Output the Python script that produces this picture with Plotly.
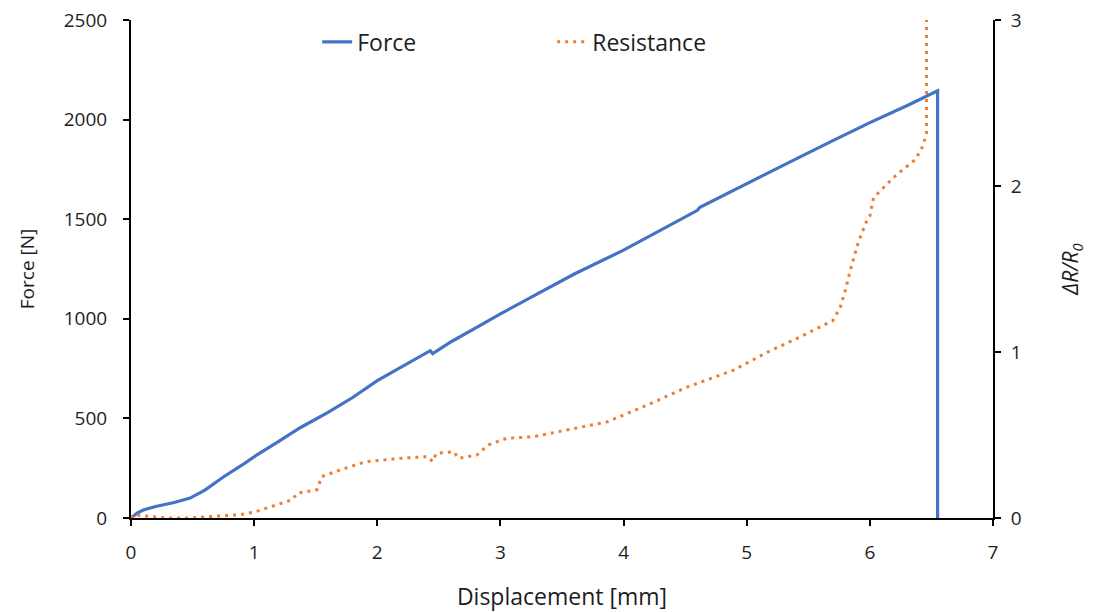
import plotly.graph_objects as go

# Force vs displacement
force_x = [0.0, 0.05, 0.1, 0.2, 0.35, 0.48, 0.6, 0.75, 0.9, 1.02, 1.2, 1.37, 1.6, 1.8, 2.0, 2.2, 2.43, 2.45, 2.6, 2.8, 3.0, 3.3, 3.6, 4.0, 4.3, 4.6, 4.62, 5.0, 5.43, 5.7, 6.0, 6.3, 6.55, 6.55]
force_y = [0, 25, 40, 58, 78, 100, 140, 206, 265, 316, 385, 452, 530, 605, 690, 760, 840, 825, 885, 955, 1025, 1125, 1225, 1345, 1445, 1545, 1560, 1680, 1812, 1895, 1985, 2070, 2145, 0]

# Resistance (ΔR/R0) vs displacement
res_x = [0.0, 0.02, 0.14, 0.29, 0.46, 0.67, 0.88, 1.0, 1.15, 1.31, 1.35, 1.51, 1.55, 1.70, 1.91, 2.19, 2.41, 2.45, 2.48, 2.62, 2.66, 2.81, 2.90, 3.05, 3.27, 3.54, 3.87, 4.19, 4.52, 4.89, 5.17, 5.43, 5.70, 5.76, 5.80, 5.84, 5.91, 5.98, 6.0, 6.03, 6.11, 6.19, 6.27, 6.37, 6.43, 6.46, 6.46, 6.46]
res_y = [0.0, 0.02, 0.01, 0.0, 0.0, 0.01, 0.02, 0.035, 0.07, 0.11, 0.15, 0.17, 0.25, 0.29, 0.34, 0.36, 0.37, 0.34, 0.39, 0.40, 0.36, 0.38, 0.44, 0.48, 0.49, 0.53, 0.58, 0.68, 0.79, 0.89, 1.0, 1.09, 1.19, 1.27, 1.37, 1.49, 1.67, 1.80, 1.82, 1.93, 1.99, 2.05, 2.10, 2.16, 2.24, 2.32, 2.54, 3.2]

x_ticks = [0, 1, 2, 3, 4, 5, 6, 7]
force_ticks = [0, 500, 1000, 1500, 2000, 2500]
res_ticks = [0, 1, 2, 3]

FONT = "Open Sans"
TXT = "#1e1e1e"
fig = go.Figure()
fig.add_trace(go.Scatter(x=force_x, y=force_y, mode="lines", name="Force",
                         line=dict(color="#4472C4", width=3.2)))
fig.add_trace(go.Scatter(x=res_x, y=res_y, mode="lines", name="Resistance", yaxis="y2",
                         line=dict(color="#ED7D31", width=3, dash="3px,5px")))

axis_common = dict(showgrid=False, zeroline=False, showline=True, linecolor="black", linewidth=2,
                   ticks="outside", ticklen=6, tickwidth=2, tickcolor="black", automargin=False,
                   ticklabeloverflow="allow",
                   tickfont=dict(family=FONT, size=19, color=TXT))

fig.update_layout(
    width=1088, height=604,
    margin=dict(l=123, r=103, t=12, b=94),
    plot_bgcolor="white", paper_bgcolor="white",
    font=dict(family=FONT, size=19, color=TXT),
    xaxis=dict(range=[0, 7], tickvals=x_ticks, ticklabelstandoff=10,
               title=dict(text="Displacement [mm]", standoff=25, font=dict(size=23)),
               **axis_common),
    yaxis=dict(range=[0, 2500.5], tickvals=force_ticks, ticklabelstandoff=12,
               title=dict(text="Force [N]", standoff=24, font=dict(size=19)),
               **axis_common),
    yaxis2=dict(range=[0, 3.0006], tickvals=res_ticks, overlaying="y", side="right", ticklabelstandoff=6,
                title=dict(text="<i>ΔR/R<sub>0</sub></i>", standoff=43, font=dict(size=21)),
                **axis_common),
    legend=dict(orientation="h", x=0.216, y=0.956, xanchor="left", yanchor="middle",
                entrywidth=190, entrywidthmode="pixels", bgcolor="rgba(0,0,0,0)",
                font=dict(family=FONT, size=23, color=TXT)),
    showlegend=True,
)

fig.write_html("out.html")
